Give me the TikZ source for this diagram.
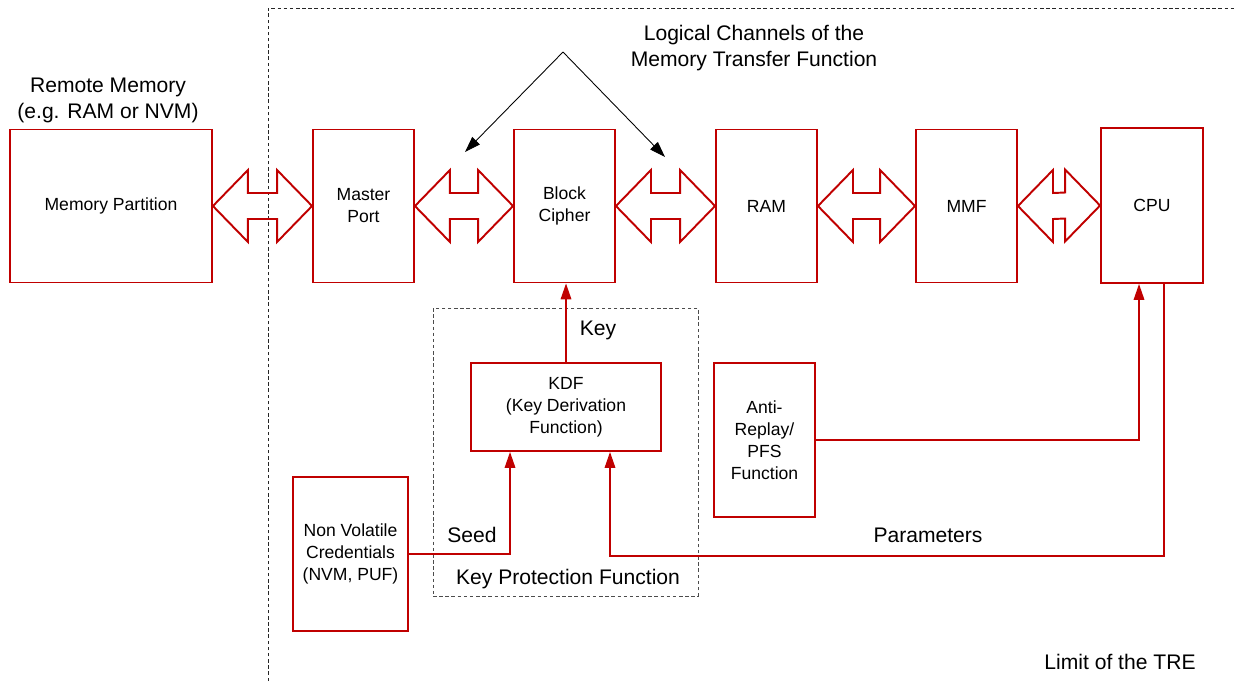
\documentclass[tikz,border=0pt]{standalone}
\usepackage{fontspec}
\setmainfont{Liberation Sans}
\usepackage{xcolor}
\usepackage{tikz}
\usetikzlibrary{arrows.meta, positioning, calc}

\definecolor{trered}{HTML}{C00000}

% double headed channel arrow between two blocks
\newcommand{\chan}[2]{%
  \draw[chan] (#1.east) -- ++(35,-36) -- ++(0,23) -- ($(#2.west)+(-35,-13)$)
    -- ++(0,-23) -- (#2.west) -- ++(-35,36) -- ++(0,-23)
    -- ($(#1.east)+(35,13)$) -- ++(0,23) -- cycle;}

\begin{document}
\begin{tikzpicture}[
    x=0.02cm, y=-0.02cm,
    block/.style={draw=trered, line width=1.1pt, minimum width=2.02cm, minimum height=3.06cm,
      align=center, inner sep=0pt, font=\fontsize{10}{12.5}\selectfont},
    label/.style={align=center, inner sep=0pt, font=\fontsize{12}{14.8}\selectfont},
    chan/.style={draw=trered, line width=1.1pt},
    link/.style={draw=trered, line width=0.8pt, -{Triangle[length=9pt,width=6pt]}},
    wire/.style={draw=trered, line width=0.8pt},
    pointer/.style={draw=black, line width=0.5pt, -{Triangle[length=9pt,width=6pt]}},
    border/.style={draw=black!85, line width=0.5pt, dash pattern=on 2pt off 1.5pt}
]
    \useasboundingbox (0,0) rectangle (1236,681);

    % limit of the TRE
    \draw[border] (268,681) |- (1236,8);
    \node[label] (tre) at (1120,662) {Limit of the TRE};

    % main chain
    \node[block, minimum width=4.04cm] (mempart) at (111,206) {Memory Partition};
    \node[block] (master) at (363.5,206) {Master\\Port};
    \node[block] (cipher) at (564.5,206) {Block\\Cipher};
    \node[block] (ram) at (766.5,206) {RAM};
    \node[block] (mmf) at (966.5,206) {MMF};
    \node[block, minimum width=2.04cm, minimum height=3.1cm] (cpu) at (1152,205.5) {CPU};

    \node[label] (remote) at (108,100) {Remote Memory\\(e.g. RAM or NVM)};

    \chan{mempart}{master}
    \chan{master}{cipher}
    \chan{cipher}{ram}
    \chan{ram}{mmf}
    \chan{mmf}{cpu}

    % logical channels
    \node[label] (logical) at (754,48) {Logical Channels of the\\Memory Transfer Function};
    \coordinate (lctop) at (563,52);
    \coordinate (lcleft) at (465,152);
    \coordinate (lcright) at (665,157);
    \draw[pointer] (lctop) -- (lcleft);
    \draw[pointer] (lctop) -- (lcright);

    % key protection function
    \node[draw=black!70, line width=0.5pt, dash pattern=on 2pt off 1.5pt,
      minimum width=5.3cm, minimum height=5.76cm] (kpf) at (565.5,452) {};
    \node[label] (kpflabel) at (568,579) {Key Protection Function};
    \node[block, minimum width=3.8cm, minimum height=1.76cm] (kdf) at (566,407)
      {KDF\\(Key Derivation\\Function)};
    \node[block, minimum width=2.3cm, minimum height=3.08cm] (nvc) at (350.5,554)
      {Non Volatile\\Credentials\\(NVM, PUF)};
    \node[block, minimum height=3.08cm] (anti) at (764.5,440)
      {Anti-\\Replay/\\PFS\\Function};

    \draw[link] (kdf.north) -- (kdf.north |- cipher.south);
    \node[label] (key) at (598,330) {Key};

    \draw[link] (nvc.east) -| ([xshift=-1.12cm]kdf.south);
    \node[label] (seed) at (472,535) {Seed};

    \draw[link] ([xshift=0.24cm]cpu.south) -- ++(0,272) -| ([xshift=0.88cm]kdf.south);
    \node[label] (params) at (928,535) {Parameters};

    \draw[link] (anti.east) -| ([xshift=-0.26cm]cpu.south);
\end{tikzpicture}
\end{document}
